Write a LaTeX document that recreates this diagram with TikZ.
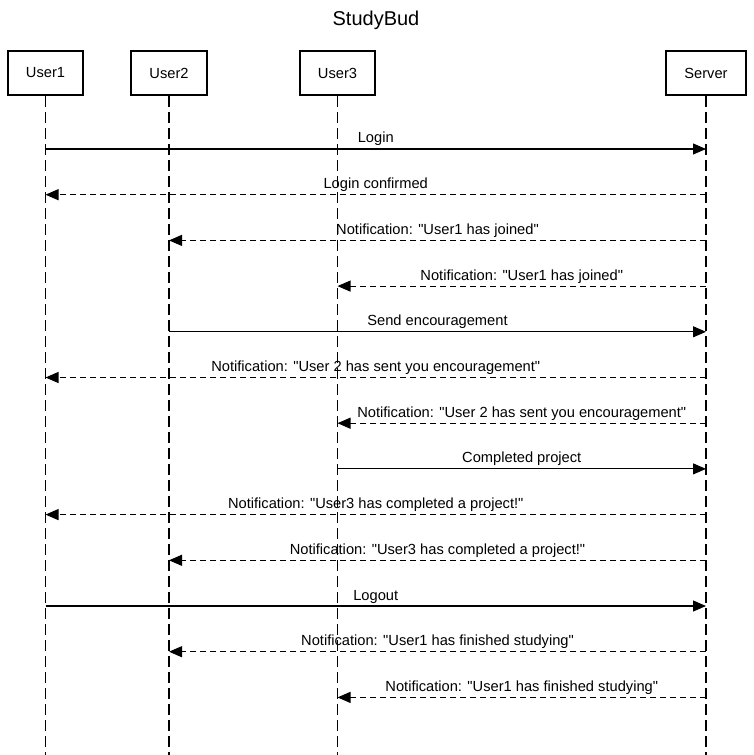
\documentclass[tikz,border=0pt]{standalone}
\usepackage{fontspec}
\newfontfamily\lib{Liberation Sans}
\usetikzlibrary{arrows.meta}
\begin{document}
\begin{tikzpicture}[x=0.75pt,y=-0.75pt,
 actor/.style={draw,line width=1.5pt,minimum height=33pt,inner xsep=13.5pt,font=\lib\fontsize{11}{13}\selectfont},
 life/.style={line width=0.8pt,dash pattern=on 8.25pt off 3.75pt},
 sync/.style={line width=0.8pt,-{Triangle[length=9.75pt,width=8.25pt]}},
 reply/.style={sync,dash pattern=on 4.5pt off 3pt},
 lbl/.style={font=\lib\fontsize{11}{13}\selectfont,anchor=base,inner sep=0pt,yshift=4.5pt}]
\useasboundingbox (0,0) rectangle (753,755);
\node[font=\lib\fontsize{15}{18}\selectfont,anchor=base] (title) at (376,25.5) {StudyBud};
\node[actor] (U1) at (45.5,73) {User1};
\node[actor] (U2) at (169,73) {User2};
\node[actor] (U3) at (337.5,73) {User3};
\node[actor] (S) at (706,73) {Server};
\foreach \n/\x in {U1/45.5,U2/169,U3/337.5,S/706}{
  \coordinate (\n-end) at (\x,755);
  \foreach \i in {1,...,13}{
    \coordinate (\n-\i) at (\x,{149+45.7*(\i-1)});
  }
}
\foreach \n in {U1,U2,U3,S}{
  \draw[life] (\n.south) -- (\n-end);
}
\draw[sync]  (U1-1) -- node[lbl]{Login} (S-1);
\draw[reply] (S-2) -- node[lbl]{Login confirmed} (U1-2);
\draw[reply] (S-3) -- node[lbl]{Notification: "User1 has joined"} (U2-3);
\draw[reply] (S-4) -- node[lbl]{Notification: "User1 has joined"} (U3-4);
\draw[sync]  (U2-5) -- node[lbl]{Send encouragement} (S-5);
\draw[reply] (S-6) -- node[lbl]{Notification: "User 2 has sent you encouragement"} (U1-6);
\draw[reply] (S-7) -- node[lbl]{Notification: "User 2 has sent you encouragement"} (U3-7);
\draw[sync]  (U3-8) -- node[lbl]{Completed project} (S-8);
\draw[reply] (S-9) -- node[lbl]{Notification: "User3 has completed a project!"} (U1-9);
\draw[reply] (S-10) -- node[lbl]{Notification: "User3 has completed a project!"} (U2-10);
\draw[sync]  (U1-11) -- node[lbl]{Logout} (S-11);
\draw[reply] (S-12) -- node[lbl]{Notification: "User1 has finished studying"} (U2-12);
\draw[reply] (S-13) -- node[lbl]{Notification: "User1 has finished studying"} (U3-13);
\end{tikzpicture}
\end{document}
